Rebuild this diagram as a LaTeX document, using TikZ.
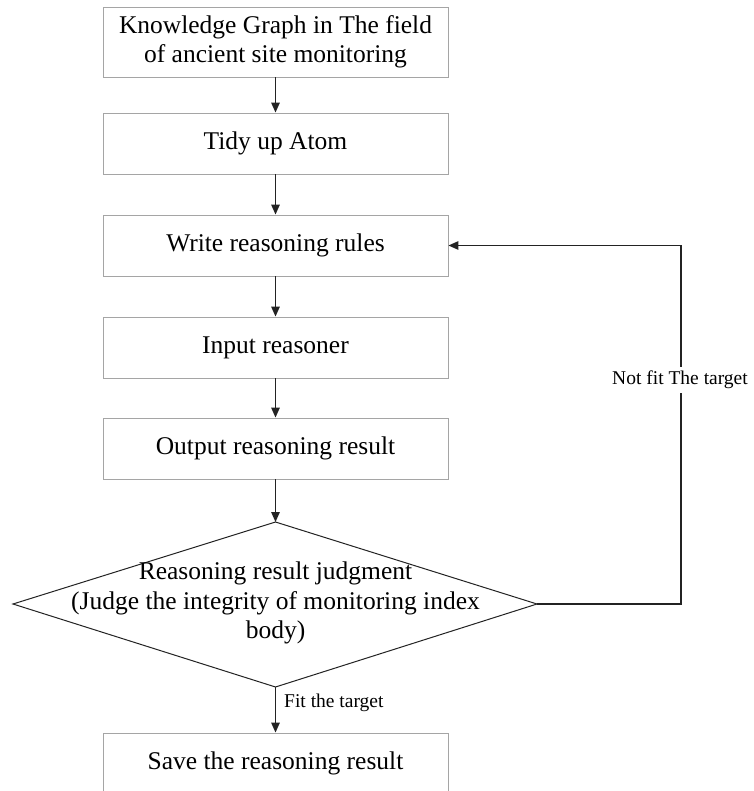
\documentclass[tikz,border=0pt]{standalone}
\usepackage{fontspec}
\setmainfont{Liberation Serif}
\usetikzlibrary{arrows.meta}
\definecolor{boxgray}{RGB}{165,165,165}
\definecolor{linedark}{RGB}{35,35,35}
\begin{document}
\begin{tikzpicture}[x=1pt,y=-1pt,
  stepbox/.style={draw=boxgray, line width=0.9pt, fill=white,
    minimum width=345pt, minimum height=61pt, inner sep=0pt,
    align=center, font=\fontsize{25.5}{29.5}\selectfont},
  flow/.style={draw=linedark, line width=1.4pt,
    -{Triangle[length=10pt,width=8.5pt]}},
  lbl/.style={font=\fontsize{19.5}{23}\selectfont, inner sep=1pt},
  decision/.style={draw=linedark, line width=1pt, line join=miter}]
  \clip (0,0) rectangle (753,791);
  \fill[white] (0,0) rectangle (753,791);

  % process steps
  \node[stepbox, minimum height=70pt] (kg) at (275.5,42)
    {Knowledge Graph in The field\\of ancient site monitoring};
  \node[stepbox] (tidy)   at (275.5,143.5) {Tidy up Atom};
  \node[stepbox] (write)  at (275.5,245.5) {Write reasoning rules};
  \node[stepbox] (input)  at (275.5,347.5) {Input reasoner};
  \node[stepbox] (output) at (275.5,448.5) {Output reasoning result};
  \node[stepbox] (save)   at (275.5,763.5) {Save the reasoning result};

  % decision diamond
  \coordinate (dtop)   at (275.5,522);
  \coordinate (dleft)  at (13,604);
  \coordinate (dright) at (537,604);
  \coordinate (dbot)   at (275.5,687);
  \draw[decision] (dtop) -- (dright) -- (dbot) -- (dleft) -- cycle;
  \node[align=center, inner sep=0pt, font=\fontsize{25.5}{29.5}\selectfont]
    (judge) at (275.5,603)
    {Reasoning result judgment\\(Judge the integrity of monitoring index\\body)};

  % main flow
  \draw[flow] (kg.south) -- (tidy.north);
  \draw[flow] (tidy.south) -- (write.north);
  \draw[flow] (write.south) -- (input.north);
  \draw[flow] (input.south) -- (output.north);
  \draw[flow] (output.south) -- (dtop);
  \draw[flow] (dbot) -- (save.north);
  \node[lbl, anchor=west] (fit) at (283,703) {Fit the target};

  % feedback loop
  \coordinate (turn) at (681,604);
  \draw[flow] (dright) -- (turn) |- (write.east);
  \node[lbl, fill=white, inner ysep=4pt] (notfit) at (680,380) {Not fit The target};
\end{tikzpicture}
\end{document}
